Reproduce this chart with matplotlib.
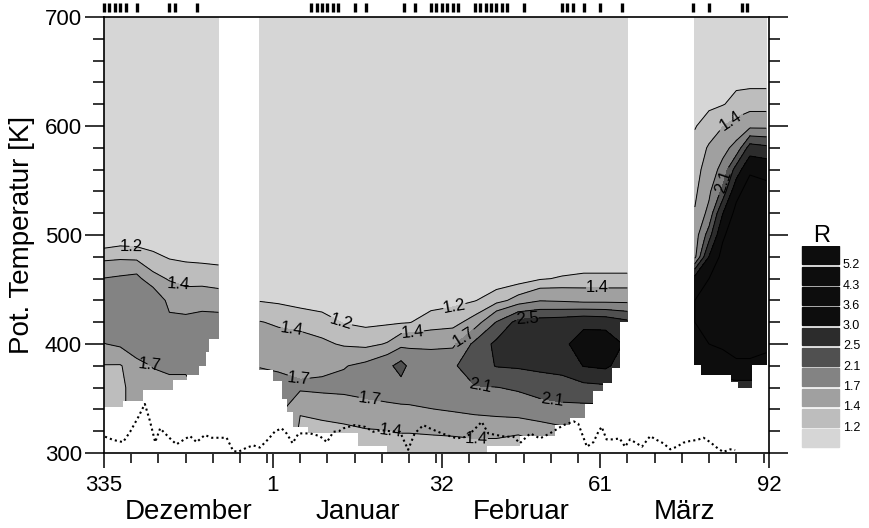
import numpy as np
import matplotlib.pyplot as plt
from matplotlib.patches import Rectangle

plt.rcParams['font.family'] = ['Liberation Sans', 'DejaVu Sans']

# x axis: days after 1 December (day 335), so 1 Jan = 31, 1 Feb = 62, 1 Mar = 91, 1 Apr = 122
tick_pos = [0, 31, 62, 91, 122]
tick_lab = ['335', '1', '32', '61', '92']
month_names = ['Dezember', 'Januar', 'Februar', 'März']
month_start = [0, 31, 62, 91]
month_len = [31, 31, 29, 31]

# R contour levels and fill greys (lowest band first)
r_levels = [1.2, 1.4, 1.7, 2.1, 2.5, 3.0, 3.6, 4.3, 5.2]
r_greys = ['#d6d6d6', '#bdbdbd', '#a0a0a0', '#838383', '#505050', '#2c2c2c',
           '#0d0d0d', '#0d0d0d', '#0d0d0d', '#0d0d0d']

# potential temperature rows (K)
theta_lo = [300, 320, 340, 360, 380, 400, 420, 440, 460, 480, 500, 600, 700]
theta_hi = [300, 320, 340, 360, 380, 400, 420, 440, 460, 480, 500,
            520, 540, 560, 580, 600, 620, 640, 660, 680, 700]

# December block: one column of R per day, rows follow theta_lo
dec_days = [0, 3, 6, 9, 12, 15, 18, 21]
dec_r = [
    [1.30, 1.30, 1.30, 1.30, 1.385, 1.69, 1.95, 1.90, 1.71, 1.33, 1.00, 1.00, 1.00],
    [1.35, 1.35, 1.35, 1.35, 1.38, 1.75, 2.00, 1.95, 1.75, 1.35, 1.05, 1.05, 1.05],
    [1.50, 1.50, 1.50, 1.50, 1.57, 1.95, 2.05, 2.00, 1.80, 1.33, 1.05, 1.05, 1.05],
    [1.50, 1.50, 1.50, 1.55, 1.72, 1.95, 2.05, 2.05, 1.47, 1.25, 1.05, 1.05, 1.05],
    [1.50, 1.50, 1.50, 1.55, 1.80, 1.95, 1.80, 1.58, 1.38, 1.18, 1.05, 1.05, 1.05],
    [1.50, 1.50, 1.50, 1.55, 1.80, 1.95, 1.80, 1.52, 1.33, 1.16, 1.05, 1.05, 1.05],
    [1.60, 1.60, 1.72, 1.80, 1.90, 1.95, 1.85, 1.55, 1.32, 1.15, 1.05, 1.05, 1.05],
    [1.90, 1.90, 1.90, 1.90, 1.90, 1.95, 1.85, 1.52, 1.30, 1.14, 1.05, 1.05, 1.05],
]
dec_edges = [0, 3.5, 7.2, 12.7, 15.2, 17.4, 18.8, 19.3, 21]
dec_floor = [342, 348, 358, 367, 372, 380, 393, 405]

# January/February block
jf_days = [28.6, 32, 36, 40, 44, 48, 52, 54.5, 56, 60, 64, 68, 72, 76, 80, 84, 88, 92, 96]
jf_r = [
    [1.80, 1.80, 1.80, 1.80, 1.69, 1.55, 1.41, 1.19, 1.10, 1.05, 1.05, 1.05, 1.05],
    [1.80, 1.80, 1.80, 1.80, 1.66, 1.50, 1.37, 1.17, 1.10, 1.05, 1.05, 1.05, 1.05],
    [1.30, 1.35, 1.42, 1.75, 1.62, 1.50, 1.33, 1.13, 1.08, 1.05, 1.05, 1.05, 1.05],
    [1.30, 1.35, 1.45, 1.78, 1.62, 1.45, 1.27, 1.12, 1.08, 1.05, 1.05, 1.05, 1.05],
    [1.30, 1.36, 1.48, 1.80, 1.68, 1.37, 1.19, 1.10, 1.07, 1.05, 1.05, 1.05, 1.05],
    [1.30, 1.38, 1.55, 1.85, 1.78, 1.33, 1.16, 1.10, 1.07, 1.05, 1.05, 1.05, 1.05],
    [1.30, 1.39, 1.60, 1.90, 2.00, 1.42, 1.17, 1.10, 1.07, 1.05, 1.05, 1.05, 1.05],
    [1.30, 1.41, 1.62, 1.95, 2.25, 1.60, 1.18, 1.10, 1.07, 1.05, 1.05, 1.05, 1.05],
    [1.30, 1.41, 1.63, 1.95, 2.02, 1.62, 1.19, 1.10, 1.07, 1.05, 1.05, 1.05, 1.05],
    [1.30, 1.42, 1.69, 1.95, 2.00, 1.60, 1.29, 1.12, 1.07, 1.05, 1.05, 1.05, 1.05],
    [1.30, 1.43, 1.73, 1.98, 2.05, 1.62, 1.32, 1.15, 1.08, 1.05, 1.05, 1.05, 1.05],
    [1.30, 1.45, 1.78, 2.08, 2.30, 2.20, 1.50, 1.19, 1.08, 1.05, 1.05, 1.05, 1.05],
    [1.30, 1.45, 1.82, 2.09, 2.52, 2.60, 2.12, 1.30, 1.10, 1.05, 1.05, 1.05, 1.05],
    [1.30, 1.42, 1.87, 2.15, 2.55, 2.75, 2.65, 1.50, 1.10, 1.05, 1.05, 1.05, 1.05],
    [1.30, 1.50, 1.95, 2.25, 2.60, 2.80, 2.70, 1.68, 1.18, 1.05, 1.05, 1.05, 1.05],
    [1.50, 1.60, 2.00, 2.30, 2.65, 2.85, 2.75, 1.65, 1.22, 1.05, 1.05, 1.05, 1.05],
    [1.60, 1.75, 2.00, 2.35, 3.02, 3.30, 2.85, 1.60, 1.25, 1.05, 1.05, 1.05, 1.05],
    [1.60, 1.75, 2.00, 2.40, 3.10, 3.35, 2.80, 1.60, 1.25, 1.05, 1.05, 1.05, 1.05],
    [1.60, 1.75, 2.00, 2.40, 2.70, 2.90, 2.60, 1.60, 1.25, 1.05, 1.05, 1.05, 1.05],
]
jf_edges = [28.6, 31.0, 32.7, 33.6, 34.7, 37.4, 46.6, 51.9, 70.3, 76.3, 82.8,
            85.5, 88.3, 89.7, 91.6, 93.2, 94.7, 96]
jf_floor = [376, 366, 350, 338, 324, 318, 306, 300, 306, 316, 326, 332, 345,
            357, 364, 378, 420]

# March block, rows follow theta_hi
mar_days = [108.4, 111, 113.5, 116, 118.5, 121.5]
mar_r = [
    [3.1, 3.1, 3.1, 3.1, 3.2, 3.5, 3.6, 3.6, 3.2, 1.6, 1.5,
     1.42, 1.35, 1.3, 1.25, 1.19, 1.15, 1.1, 1.05, 1.05, 1.05],
    [2.8, 2.8, 2.8, 2.9, 3.2, 3.6, 3.8, 3.8, 3.6, 3.02, 2.3,
     1.8, 1.63, 1.53, 1.43, 1.27, 1.17, 1.12, 1.08, 1.05, 1.05],
    [2.7, 2.7, 2.7, 2.8, 3.3, 3.7, 3.9, 4.0, 4.0, 3.8, 3.5,
     2.98, 2.2, 1.8, 1.6, 1.39, 1.19, 1.15, 1.1, 1.07, 1.05],
    [2.7, 2.7, 2.7, 2.8, 3.4, 4.0, 4.2, 4.2, 4.2, 4.2, 4.0,
     3.8, 3.4, 2.7, 1.8, 1.5, 1.25, 1.17, 1.12, 1.08, 1.05],
    [2.7, 2.7, 2.7, 2.8, 3.4, 4.0, 4.2, 4.2, 4.2, 4.2, 4.2,
     4.2, 3.9, 3.5, 2.7, 1.6, 1.3, 1.16, 1.12, 1.08, 1.05],
    [2.7, 2.7, 2.7, 2.8, 3.3, 3.8, 4.0, 4.0, 4.0, 4.0, 4.0,
     4.0, 3.8, 3.4, 2.6, 1.6, 1.3, 1.16, 1.12, 1.08, 1.05],
]
mar_edges = [108.4, 109.6, 115, 116.3, 118.9, 121.5]
mar_floor = [381, 372, 365, 360, 381]

# contour labels: (level, day, theta)
dec_labels = [(1.2, 5.1, 491), (1.4, 13.6, 454), (1.7, 8.4, 378)]
jf_labels = [(1.4, 34.5, 417), (1.2, 43.3, 416), (1.2, 64.4, 431), (1.4, 56.7, 410),
             (1.7, 66.6, 401), (1.4, 90.5, 447), (1.7, 36, 376), (1.7, 48.8, 351),
             (2.1, 69, 360), (2.1, 82.2, 350), (1.4, 52.5, 319), (1.4, 68.4, 315),
             (2.5, 77.6, 426)]
mar_labels = [(1.4, 115, 604), (2.1, 114, 549)]

# tropopause potential temperature (dotted)
tp_days = [0.2, 1.7, 3.5, 4.8, 6.3, 7.5, 8.4, 9.4, 10.3, 11.2, 12.4, 13.3, 14.9, 15.8,
           17, 18.5, 19.8, 21.3, 22.5, 23.7, 24.6, 26.2, 27.4, 28.6, 30.1, 31.4, 32.6,
           33.5, 34.6, 35.7, 37.8, 39.6, 40.9, 42.1, 43.1, 43.9, 46, 47.9, 49.4, 50.8,
           52.5, 54.3, 55.8, 57, 58.6, 59.8, 62, 64.7, 66.6, 68.4, 69.3, 70.5, 72, 73.6,
           75.1, 76.3, 78.2, 80, 81.8, 84.3, 86.2, 87.0, 87.9, 88.6, 89.8, 90.7, 91.3,
           92.2, 93.4, 94.6, 95.6, 96.5, 97.7, 98.7, 100.2, 101.4, 102.6, 103.9, 105.1,
           106.3, 107.5, 108.8, 110, 111.2, 112.6, 113.6, 114.9, 115.8]
tp_theta = [315, 312, 310, 319.5, 333, 345, 330, 310, 322.6, 318, 312, 308, 313, 315.5,
            310, 316.5, 314, 314, 314, 302, 301, 305, 307, 305, 312.5, 320, 322.6,
            318, 309, 318, 318, 315.5, 310, 319.5, 320, 322.6, 325.6, 324, 319.5, 321,
            320, 319.5, 303, 318, 325.6, 322.6, 318, 313.4, 315, 324, 328.6, 318, 316.5, 315,
            315, 309, 318, 313.4, 318, 325.6, 329, 327, 315, 305.8, 310, 319.5, 324,
            312.5, 312.5, 313.4, 305.8, 312.5, 309, 305.8, 315.5, 312, 309, 303.4, 305.8,
            309.5, 311, 312, 314, 310, 304.3, 301, 303.4, 302.7]

# days with soundings (marks above the frame)
obs_days = [0, 1, 2, 3, 4, 6, 12, 13, 17, 38, 39, 40, 41, 42, 43, 46, 48, 55, 57,
            60, 61, 62, 63, 64, 65, 68, 69, 70, 71, 72, 73, 74, 77, 84, 85, 86, 88,
            91, 95, 108, 111, 117, 118]

fig = plt.figure(figsize=(8.7, 5.28), dpi=100)
ax = fig.add_axes([0.1195, 0.142, 0.7644, 0.8258])

bounds = [0] + r_levels + [10]
blocks = [
    (dec_days, theta_lo, dec_r, dec_edges, dec_floor, dec_labels),
    (jf_days, theta_lo, jf_r, jf_edges, jf_floor, jf_labels),
    (mar_days, theta_hi, mar_r, mar_edges, mar_floor, mar_labels),
]
for days, th, r, edges, floor, labels in blocks:
    z = np.array(r).T
    ax.contourf(days, th, z, levels=bounds, colors=r_greys, zorder=1)
    # one line set per level so each label goes onto its own level
    for lev in r_levels:
        if not (z.min() < lev < z.max()):
            continue
        cs = ax.contour(days, th, z, levels=[lev], colors='k', linewidths=0.7, zorder=2)
        spots = [(d, t) for l, d, t in labels if l == lev]
        if spots:
            ax.clabel(cs, manual=spots, inline=True, inline_spacing=2,
                      fontsize=12, fmt='%.1f')
    # no data below the lowest level of each profile; widened a little so
    # no grey seam stays at the block sides
    x_mask = [edges[0] - 0.5] + list(edges[1:-1]) + [edges[-1] + 0.5]
    ax.fill_between(x_mask, 290, list(floor) + [floor[-1]], step='post',
                    color='white', lw=0, zorder=2.2)

ax.plot(tp_days, tp_theta, color='k', lw=1.5, linestyle=(0, (1, 1.5)), zorder=4)

ax.vlines(obs_days, 1.012, 1.032, transform=ax.get_xaxis_transform(),
          colors='k', lw=2.4, clip_on=False)

ax.set_xlim(0, 122)
ax.set_ylim(300, 700)
ax.set_xticks(tick_pos, tick_lab)
minor = []
for s, n in zip(month_start, month_len):
    minor += [s + k for k in range(0, n, 5)]
ax.set_xticks(minor, minor=True)
ax.set_yticks(range(300, 701, 100))
ax.set_yticks(range(300, 701, 20), minor=True)
ax.tick_params(which='both', direction='out', top=False, right=True,
               labelright=False, width=1.1, colors='k')
ax.tick_params(axis='x', which='major', length=11, pad=5, labelsize=16)
ax.tick_params(axis='x', which='minor', length=7)
ax.tick_params(axis='y', which='major', length=14, pad=2, labelsize=16)
ax.tick_params(axis='y', which='minor', length=8)
for sp in ax.spines.values():
    sp.set_linewidth(1.2)
    sp.set_zorder(5)

for name, s, n in zip(month_names, month_start, month_len):
    ax.text(s + n / 2, -0.135, name, transform=ax.get_xaxis_transform(),
            ha='center', va='center', fontsize=20)

fig.text(22 / 870, 1 - 235 / 528, 'Pot. Temperatur [K]', rotation=90,
         ha='center', va='center', fontsize=20)

# level key
lax = fig.add_axes([800 / 870, 1 - 449 / 528, 70 / 870, 203 / 528])
lax.set_xlim(0, 70)
lax.set_ylim(0, 10)
lax.axis('off')
for i, c in enumerate(r_greys):
    lax.add_patch(Rectangle((2, i + 0.1), 37, 0.88, color=c))
for i, lev in enumerate(r_levels):
    lax.text(43, i + 1.05, f'{lev:.1f}', fontsize=9, va='center')
lax.text(22, 10.5, 'R', fontsize=17, ha='center', va='center', clip_on=False)

fig.savefig('out.png', dpi=100)
